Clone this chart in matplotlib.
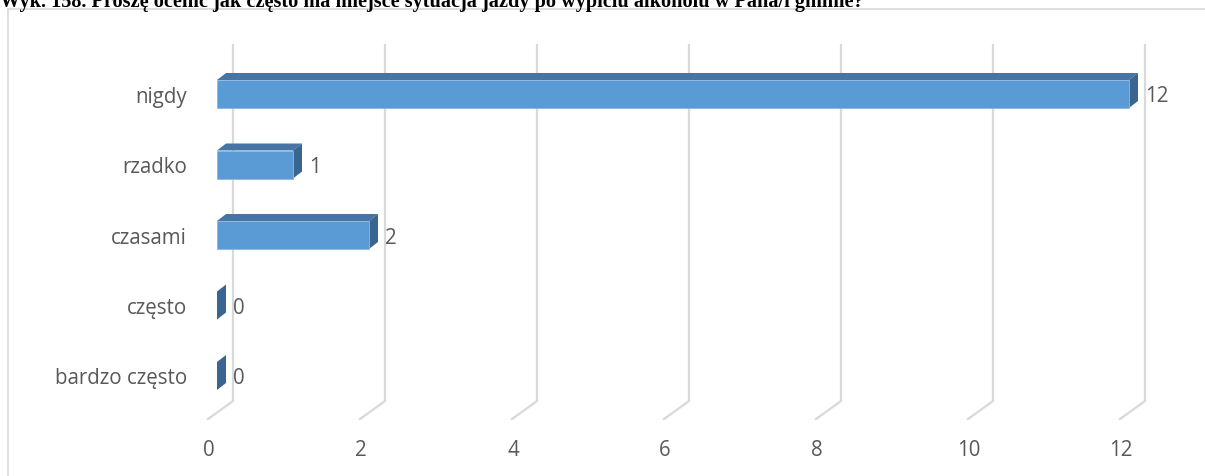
import matplotlib.pyplot as plt
from matplotlib.patches import Polygon
from matplotlib.lines import Line2D

categories = ["bardzo często", "często", "czasami", "rzadko", "nigdy"]
values = [0, 0, 2, 1, 12]
ticks = [0, 2, 4, 6, 8, 10, 12]
title = "Wyk. 158. Proszę ocenić jak często ma miejsce sytuacja jazdy po wypiciu alkoholu w Pana/i gminie?"

W, H = 1205, 477
fig = plt.figure(figsize=(W / 100, H / 100), dpi=100)

# pixel layout of the value axis (front face)
x0_px, px_per_unit = 217, 76.0
y0_px, px_per_cat = 377, 70.5
ax_left, ax_right, ax_top = 100, 1205, 30
ax = fig.add_axes([ax_left / W, 0, (ax_right - ax_left) / W, (H - ax_top) / H])
ax.set_xlim((ax_left - x0_px) / px_per_unit, (ax_right - x0_px) / px_per_unit)
ax.set_ylim((y0_px - H) / px_per_cat, (y0_px - ax_top) / px_per_cat)
ax.axis("off")

def ux(px):
    return px / px_per_unit

def uy(px):
    return px / px_per_cat

grid_c = "#D9D9D9"
text_c = "#595959"
font = "Open Sans"
fs = 14.8

# gridlines with 3D floor corner
for t in ticks:
    ax.plot([t + ux(16), t + ux(16), t - ux(9)],
            [uy(y0_px - 46), uy(y0_px - 402), uy(y0_px - 420)],
            color=grid_c, lw=1.6, solid_joinstyle="miter", zorder=1)
    ax.text(t - ux(8), uy(y0_px - 451), str(t), ha="center", va="center",
            fontsize=fs, color=text_c, family=font)

front_c = "#5B9BD5"
top_c = "#4674A4"
side_c = "#3A6591"
h = uy(14)
dx, dy = ux(9), uy(7)

for i, (cat, v) in enumerate(zip(categories, values)):
    if v > 0:
        ax.add_patch(Polygon([(0, i + h), (dx, i + h + dy), (v + dx, i + h + dy), (v, i + h)],
                             closed=True, fc=top_c, ec="none", zorder=3))
        ax.add_patch(Polygon([(0, i - h), (v, i - h), (v, i + h), (0, i + h)],
                             closed=True, fc=front_c, ec="#8DB8E3", lw=0.6, zorder=4))
    ax.add_patch(Polygon([(v, i - h), (v + dx, i - h + dy), (v + dx, i + h + dy), (v, i + h)],
                         closed=True, fc=side_c, ec="none", zorder=3))
    ax.text(v + ux(16), i - uy(2), str(v), ha="left", va="center",
            fontsize=fs, color=text_c, family=font)
    ax.text(-ux(30), i - uy(2), cat, ha="right", va="center",
            fontsize=fs, color=text_c, family=font)

# chart frame
fig.add_artist(Line2D([8 / W, 8 / W], [0, 1 - 10 / H], color=grid_c, lw=1.2))
fig.add_artist(Line2D([8 / W, 1], [1 - 10 / H, 1 - 10 / H], color=grid_c, lw=1.2))

fig.text(0, 1 - 7.5 / H, title, ha="left", va="baseline", fontsize=14.6,
         fontweight="bold", family="Liberation Serif", color="black", zorder=10)

fig.savefig("out.png", dpi=100)
